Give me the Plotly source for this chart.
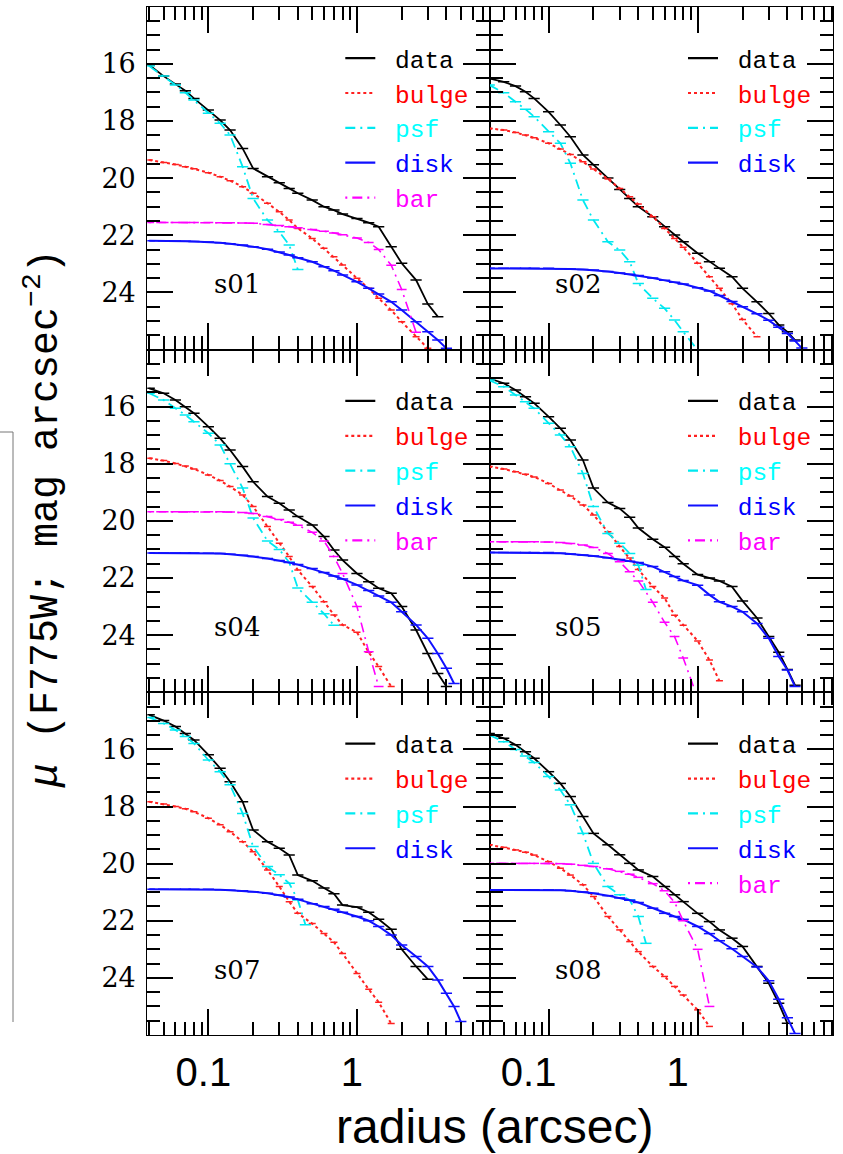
import plotly.graph_objects as go

N = None
radius = [0.04, 0.05, 0.06, 0.07, 0.08, 0.1, 0.12, 0.14, 0.17, 0.2, 0.25, 0.3, 0.35, 0.4, 0.45,
          0.5, 0.6, 0.7, 0.8, 1.0, 1.2, 1.4, 1.7, 2.0, 2.5, 3.0, 3.5, 4.0, 4.5, 5.0]

# ---- s01 ----
s01_data = [16.04, 16.43, 16.71, 16.94, 17.21, 17.62, 17.97, 18.32, 18.96, 19.66, 19.95, 20.16, 20.36, 20.53, N,
            20.77, 21.00, 21.12, 21.26, 21.41, 21.56, 21.70, 22.40, 22.98, 23.57, 24.41, 24.85, N, N, N]
s01_bulge = [19.37, 19.45, 19.52, 19.60, 19.67, 19.81, 19.95, 20.09, 20.30, 20.53, 20.88, 21.18, 21.47, 21.76, N,
             22.11, 22.46, 22.75, 23.04, 23.51, 23.86, 24.21, 24.62, 25.03, 25.55, 25.96, N, N, N, N]
s01_psf = [16.08, 16.43, 16.74, 17.01, 17.27, 17.73, 18.08, 18.49, 19.60, 20.71, 21.47, 21.88, 22.34, 23.20, N,
           N, N, N, N, N, N, N, N, N, N, N, N, N, N, N]
s01_disk = [22.19, 22.19, 22.20, 22.21, 22.22, 22.24, 22.26, 22.30, 22.34, 22.40, 22.49, 22.59, 22.69, 22.79, N,
            22.93, 23.10, 23.24, 23.39, 23.63, 23.86, 24.06, 24.33, 24.62, 25.03, 25.38, 25.67, 25.96, N, N]
s01_bar = [21.55, 21.55, 21.55, 21.55, 21.55, 21.55, 21.56, 21.56, 21.57, 21.58, 21.62, 21.66, 21.70, 21.74, N,
           21.80, 21.86, 21.92, 21.98, 22.10, 22.25, 22.50, 23.05, 23.90, 25.40, N, N, N, N, N]

# ---- s02 ----
s02_data = [16.51, 16.63, 16.78, 16.98, 17.21, 17.68, 18.14, 18.55, 19.19, 19.53, 20.00, 20.40, 20.71, 21.00, N,
            21.35, 21.70, 21.99, 22.23, 22.63, 22.93, 23.16, 23.45, 23.86, 24.33, 24.74, 25.14, 25.38, 25.67, N]
s02_bulge = [18.26, 18.32, 18.40, 18.49, 18.59, 18.78, 18.98, 19.17, 19.43, 19.68, 20.03, 20.36, 20.65, 20.91, N,
             21.35, 21.76, 22.11, 22.42, 22.98, 23.45, 23.86, 24.40, 24.95, 25.55, N, N, N, N, N]
s02_psf = [16.74, 17.01, 17.33, 17.59, 17.85, 18.38, 18.78, 19.48, 20.77, 21.47, 22.23, 22.52, 22.93, 23.69, N,
           24.21, 24.56, 24.97, 25.38, 26.02, N, N, N, N, N, N, N, N, N, N]
s02_disk = [23.16, 23.16, 23.16, 23.16, 23.16, 23.16, 23.17, 23.18, 23.20, 23.22, 23.27, 23.32, 23.37, 23.41, N,
            23.50, 23.58, 23.65, 23.71, 23.84, 23.95, 24.11, 24.32, 24.50, 24.75, 24.98, 25.22, 25.44, 25.70, 25.95]

# ---- s04 ----
s04_data = [15.36, 15.53, 15.77, 16.00, 16.23, 16.70, 17.11, 17.52, 18.10, 18.63, 19.15, 19.38, 19.62, 19.85, N,
            20.14, 20.55, 21.02, 21.37, 21.84, 22.13, 22.36, 22.53, 23.00, 23.82, 24.64, 25.34, 25.80, N, N]
s04_bulge = [17.81, 17.89, 17.99, 18.08, 18.18, 18.39, 18.59, 18.80, 19.09, 19.50, 20.20, 20.78, 21.25, 21.72, N,
             22.30, 22.83, 23.29, 23.64, 23.90, 24.60, 25.10, 25.80, N, N, N, N, N, N, N]
s04_psf = [15.53, 15.77, 16.06, 16.29, 16.53, 16.93, 17.34, 18.00, 18.85, 19.90, 20.70, 21.00, 21.45, 22.35, N,
           22.85, 23.25, 23.65, N, N, N, N, N, N, N, N, N, N, N, N]
s04_disk = [21.12, 21.12, 21.12, 21.12, 21.12, 21.13, 21.14, 21.17, 21.20, 21.25, 21.32, 21.39, 21.46, 21.53, N,
            21.67, 21.81, 21.93, 22.03, 22.24, 22.44, 22.63, 22.85, 23.18, 23.64, 24.11, 24.64, 25.16, 25.69, N]
s04_bar = [19.68, 19.68, 19.68, 19.68, 19.68, 19.68, 19.68, 19.69, 19.71, 19.74, 19.85, 19.95, 20.05, 20.15, N,
           20.40, 20.70, 21.25, 21.84, 23.00, 24.58, 25.80, N, N, N, N, N, N, N, N]

# ---- s05 ----
s05_data = [15.01, 15.18, 15.42, 15.65, 15.88, 16.35, 16.76, 17.17, 17.87, 18.85, 19.36, 19.57, 19.87, 20.25, N,
            20.64, 20.92, 21.25, 21.50, 21.88, 22.00, 22.10, 22.30, 22.80, 23.40, 24.05, 24.60, 25.20, 25.75, N]
s05_bulge = [18.10, 18.18, 18.28, 18.37, 18.46, 18.69, 18.92, 19.13, 19.44, 19.79, 20.38, 20.90, 21.30, 21.70, N,
             22.30, 22.70, 23.30, 23.65, 24.20, 24.87, 25.60, N, N, N, N, N, N, N, N]
s05_psf = [15.07, 15.30, 15.59, 15.83, 16.06, 16.58, 16.99, 17.40, 18.34, 19.50, 20.44, 20.78, 21.14, 21.55, 22.40,
           N, N, N, N, N, N, N, N, N, N, N, N, N, N, N]
s05_disk = [21.11, 21.11, 21.11, 21.11, 21.11, 21.11, 21.13, 21.16, 21.19, 21.23, 21.29, 21.35, 21.41, 21.46, N,
            21.60, 21.78, 21.95, 22.09, 22.25, 22.59, 22.83, 23.00, 23.18, 23.59, 24.11, 24.75, 25.22, 25.80, N]
s05_bar = [20.73, 20.73, 20.73, 20.73, 20.73, 20.74, 20.76, 20.79, 20.84, 20.93, 21.14, 21.43, 21.78, 22.10, N,
           22.85, 23.55, 24.05, 24.80, 26.20, N, N, N, N, N, N, N, N, N, N]

# ---- s07 ----
s07_data = [14.79, 14.99, 15.20, 15.44, 15.67, 16.19, 16.66, 17.13, 17.83, 18.82, 19.23, 19.46, 19.70, 20.40, N,
            20.60, 20.85, 21.05, 21.45, 21.52, 21.70, 21.95, 22.30, 23.00, 23.60, 24.05, N, N, N, N]
s07_bulge = [17.83, 17.91, 18.00, 18.08, 18.18, 18.41, 18.64, 18.88, 19.23, 19.58, 20.22, 20.80, 21.33, 21.74, N,
             22.10, 22.45, 22.75, 23.15, 23.85, 24.40, 24.85, 25.60, N, N, N, N, N, N, N]
s07_psf = [14.88, 15.09, 15.32, 15.55, 15.79, 16.37, 16.78, 17.24, 18.24, 19.40, 20.10, 20.39, 20.69, 21.27, 22.14,
           N, N, N, N, N, N, N, N, N, N, N, N, N, N, N]
s07_disk = [20.90, 20.90, 20.90, 20.90, 20.90, 20.90, 20.91, 20.93, 20.95, 20.98, 21.04, 21.10, 21.17, 21.25, N,
            21.40, 21.50, 21.60, 21.70, 21.85, 22.00, 22.20, 22.50, 22.85, 23.25, 23.60, 24.07, 24.54, 25.00, 25.53]

# ---- s08 ----
s08_data = [15.44, 15.61, 15.84, 16.08, 16.31, 16.78, 17.19, 17.65, 18.35, 18.94, 19.34, 19.69, 19.99, 20.22, N,
            20.45, 20.80, 21.09, 21.33, 21.74, 22.03, 22.32, 22.61, 22.90, 23.60, 24.19, 24.89, 25.59, N, N]
s08_bulge = [19.34, 19.43, 19.52, 19.60, 19.70, 19.93, 20.16, 20.40, 20.74, 21.15, 21.85, 22.32, 22.73, 23.08, N,
             23.60, 23.95, 24.30, 24.60, 25.12, 25.70, N, N, N, N, N, N, N, N, N]
s08_psf = [15.49, 15.73, 16.00, 16.23, 16.46, 16.95, 17.42, 17.94, 18.94, 19.99, 20.80, 21.09, 21.27, 21.85, 22.79,
           N, N, N, N, N, N, N, N, N, N, N, N, N, N, N]
s08_disk = [20.92, 20.92, 20.92, 20.92, 20.92, 20.92, 20.93, 20.95, 20.99, 21.04, 21.12, 21.20, 21.28, 21.36, N,
            21.56, 21.74, 21.85, 21.95, 22.20, 22.45, 22.70, 22.98, 23.25, 23.62, 24.10, 24.75, 25.40, 25.95, N]
s08_bar = [19.99, 19.99, 19.99, 19.99, 19.99, 19.99, 20.00, 20.02, 20.06, 20.10, 20.18, 20.27, 20.37, 20.48, N,
           20.70, 20.95, 21.35, 22.00, 23.00, 25.00, N, N, N, N, N, N, N, N, N]

panel_names = ["s01", "s02", "s04", "s05", "s07", "s08"]
panel_series = [
    {"data": s01_data, "bulge": s01_bulge, "psf": s01_psf, "disk": s01_disk, "bar": s01_bar},
    {"data": s02_data, "bulge": s02_bulge, "psf": s02_psf, "disk": s02_disk},
    {"data": s04_data, "bulge": s04_bulge, "psf": s04_psf, "disk": s04_disk, "bar": s04_bar},
    {"data": s05_data, "bulge": s05_bulge, "psf": s05_psf, "disk": s05_disk, "bar": s05_bar},
    {"data": s07_data, "bulge": s07_bulge, "psf": s07_psf, "disk": s07_disk},
    {"data": s08_data, "bulge": s08_bulge, "psf": s08_psf, "disk": s08_disk, "bar": s08_bar},
]
x_ticks = [0.1, 1]
x_tick_text = ["0.1", "1"]
x_minor_ticks = [0.04, 0.05, 0.06, 0.07, 0.08, 0.09, 0.2, 0.3, 0.4, 0.5, 0.6, 0.7, 0.8, 0.9,
                 2, 3, 4, 5, 6, 7, 8, 9]
y_ticks = [16, 18, 20, 22, 24]

# ---- styles ----
style = {
    "data":  dict(color="#000000", dash="solid", width=1.8, msize=8),
    "bulge": dict(color="#ff2020", dash="dot", width=2.0, msize=5),
    "psf":   dict(color="#00e8f0", dash="10px,5px,2px,5px", width=1.8, msize=8),
    "disk":  dict(color="#1010ff", dash="solid", width=2.0, msize=8),
    "bar":   dict(color="#ff00ff", dash="2px,5px,10px,5px", width=1.6, msize=7),
}
legend_colors = {"data": "#000000", "bulge": "#ff0000", "psf": "#00ffff", "disk": "#0000ff", "bar": "#ff00ff"}

W, H = 843, 1154
col_px = [(147.3, 489.5), (490.0, 833.3)]
row_px = [(6.7, 349.5), (349.5, 692.3), (692.3, 1035.0)]
x_ranges = [[-1.411, 0.892], [-1.393, 0.910]]

SERIF = "DejaVu Serif"
MONO = "Liberation Mono"
SANS = "Liberation Sans"

fig = go.Figure()
layout = dict(width=W, height=H, margin=dict(l=0, r=0, t=0, b=0),
              paper_bgcolor="white", plot_bgcolor="white", showlegend=True)
annotations = []

for i, name in enumerate(panel_names):
    row, col = divmod(i, 2)
    k = i + 1
    xa = "xaxis" if k == 1 else f"xaxis{k}"
    ya = "yaxis" if k == 1 else f"yaxis{k}"
    xr = "x" if k == 1 else f"x{k}"
    yr = "y" if k == 1 else f"y{k}"
    lg = "legend" if k == 1 else f"legend{k}"
    x0, x1 = col_px[col]
    t0, t1 = row_px[row]
    bottom = row == 2
    left = col == 0
    layout[xa] = dict(
        type="log", range=x_ranges[col], domain=[x0 / W, x1 / W], anchor=yr,
        showline=True, linecolor="black", linewidth=1.2, mirror="allticks",
        ticks="inside", ticklen=26, tickwidth=1.5, tickcolor="black",
        tickmode="array", tickvals=x_ticks, ticktext=x_tick_text,
        showticklabels=bottom, tickfont=dict(family=SANS, size=40, color="black"),
        ticklabelstandoff=2, ticklabelshift=(-5 if left else -20),
        minor=dict(tickmode="array", tickvals=x_minor_ticks, ticks="inside", ticklen=13,
                   tickwidth=1.5, tickcolor="black", showgrid=False),
        showgrid=False, zeroline=False, fixedrange=True,
    )
    layout[ya] = dict(
        range=[26, 14], domain=[1 - t1 / H, 1 - t0 / H], anchor=xr,
        showline=True, linecolor="black", linewidth=1.2, mirror="allticks",
        ticks="inside", ticklen=26, tickwidth=1.5, tickcolor="black",
        tickmode="array", tickvals=y_ticks, showticklabels=left,
        tickfont=dict(family=SERIF, size=27, color="black"), ticklabelstandoff=5,
        minor=dict(tick0=14, dtick=0.5, ticks="inside", ticklen=13, tickwidth=1.5,
                   tickcolor="black", showgrid=False),
        showgrid=False, zeroline=False, fixedrange=True,
    )
    series = panel_series[i]
    for comp, yvals in series.items():
        st = style[comp]
        fig.add_trace(go.Scatter(
            x=radius, y=yvals, xaxis=xr, yaxis=yr, mode="lines+markers",
            connectgaps=True, showlegend=False, hoverinfo="skip",
            line=dict(color=st["color"], width=st["width"], dash=st["dash"]),
            marker=dict(symbol="line-ew", size=st["msize"],
                        line=dict(color=st["color"], width=1.5)),
        ))
    for comp in series:
        st = style[comp]
        fig.add_trace(go.Scatter(
            x=[None], y=[None], xaxis=xr, yaxis=yr, mode="lines", legend=lg,
            name=f'<span style="color:{legend_colors[comp]}">\u00a0{comp}</span>',
            line=dict(color=st["color"], width=2.2, dash=st["dash"]),
        ))
    layout[lg] = dict(
        x=(x0 + 193) / W, y=1 - (t0 + 29) / H,
        xanchor="left", yanchor="top", bgcolor="rgba(0,0,0,0)", borderwidth=0,
        font=dict(family=MONO, size=24.5, color="black"), traceorder="normal",
        itemwidth=30, itemclick=False, itemdoubleclick=False,
    )
    annotations.append(dict(
        text=name, xref=f"{xr} domain", yref=f"{yr} domain",
        x=0.263 if left else 0.257, y=0.19, xanchor="center", yanchor="middle",
        showarrow=False, font=dict(family=SERIF, size=26, color="black"),
    ))

annotations.append(dict(
    text="<i>μ</i> (F775W; mag arcsec<sup>−2</sup>)", xref="paper", yref="paper",
    x=43 / W, y=1 - 519 / H, xanchor="center", yanchor="middle", textangle=-90,
    showarrow=False, font=dict(family=MONO, size=40, color="black"),
))
annotations.append(dict(
    text="radius (arcsec)", xref="paper", yref="paper",
    x=494 / W, y=1 - 1126 / H, xanchor="center", yanchor="middle",
    showarrow=False, font=dict(family=SANS, size=48, color="black"),
))
layout["annotations"] = annotations

# faint edge of a neighbouring figure visible at the far left of the page
layout["shapes"] = [
    dict(type="line", xref="paper", yref="paper", x0=13 / W, x1=13 / W,
         y0=1 - 432 / H, y1=1 - 1022 / H, line=dict(color="#777777", width=1)),
    dict(type="line", xref="paper", yref="paper", x0=0, x1=13 / W,
         y0=1 - 432 / H, y1=1 - 432 / H, line=dict(color="#777777", width=1)),
]
fig.update_layout(**layout)
fig.write_html("out.html")
